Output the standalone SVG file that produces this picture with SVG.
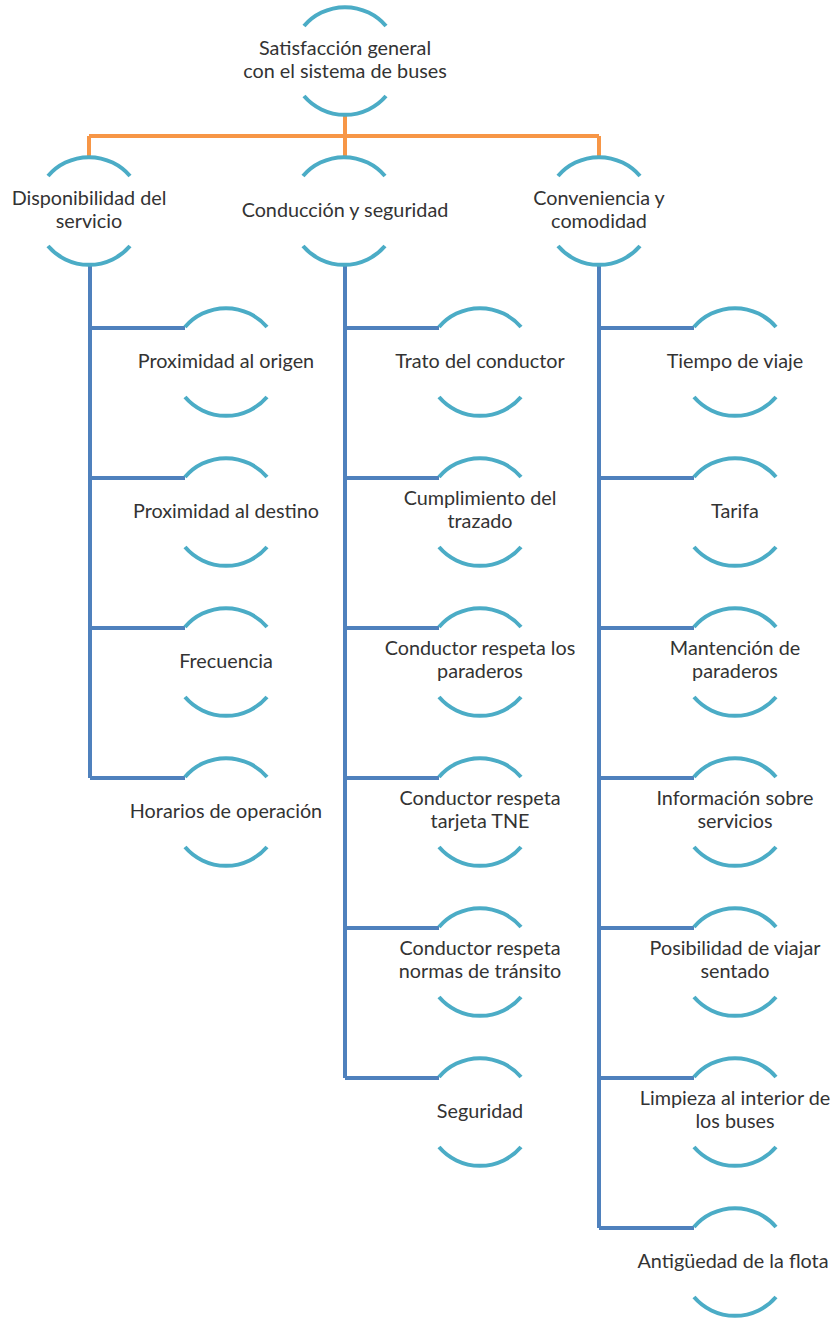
<svg xmlns="http://www.w3.org/2000/svg" xmlns:xlink="http://www.w3.org/1999/xlink" width="835" height="1318" viewBox="0 0 835 1318">
  <style>
    .arc { fill: none; stroke: #4BACC6; stroke-width: 4; }
    .trunk { fill: none; stroke: #F79646; stroke-width: 4; }
    .branch { fill: none; stroke: #4F81BD; stroke-width: 4; }
    text { font-family: Lato, "Open Sans", "Liberation Sans", sans-serif; font-size: 19.8px; fill: #333333; text-anchor: middle; }
  </style>
  <defs>
    <!-- open circle: top and bottom arcs around (0,0) -->
    <g id="ring">
      <path class="arc" d="M -41 -35 A 54 54 0 0 1 41 -35"/>
      <path class="arc" d="M -41 35 A 54 54 0 0 0 41 35"/>
    </g>
  </defs>
  <rect width="835" height="1318" fill="#ffffff"/>

  <g id="connectors">
    <path class="trunk" d="M 345 115 V 136 M 89 136 H 599 M 89 136 V 157 M 345 136 V 157 M 599 136 V 157"/>
    <path class="branch" d="M 90 265 V 778 M 90 328 H 185 M 90 478 H 185 M 90 628 H 185 M 90 778 H 185"/>
    <path class="branch" d="M 345 265 V 1078 M 345 328 H 439 M 345 478 H 439 M 345 628 H 439 M 345 778 H 439 M 345 928 H 439 M 345 1078 H 439"/>
    <path class="branch" d="M 599 265 V 1228 M 599 328 H 694 M 599 478 H 694 M 599 628 H 694 M 599 778 H 694 M 599 928 H 694 M 599 1078 H 694 M 599 1228 H 694"/>
  </g>

  <g id="root">
    <use xlink:href="#ring" x="345" y="61"/>
    <text x="345" y="55">Satisfacción general</text>
    <text x="345" y="78">con el sistema de buses</text>
  </g>

  <g id="disponibilidad">
    <use xlink:href="#ring" x="89" y="211"/>
    <text x="89" y="205">Disponibilidad del</text>
    <text x="89" y="228">servicio</text>
  </g>
  <g id="conduccion">
    <use xlink:href="#ring" x="344" y="211"/>
    <text x="345" y="217">Conducción y seguridad</text>
  </g>
  <g id="conveniencia">
    <use xlink:href="#ring" x="599" y="211"/>
    <text x="599" y="205">Conveniencia y</text>
    <text x="599" y="228">comodidad</text>
  </g>

  <!-- Disponibilidad del servicio -->
  <g id="proximidad-origen">
    <use xlink:href="#ring" x="226" y="362"/>
    <text x="226" y="368">Proximidad al origen</text>
  </g>
  <g id="proximidad-destino">
    <use xlink:href="#ring" x="226" y="512"/>
    <text x="226" y="518">Proximidad al destino</text>
  </g>
  <g id="frecuencia">
    <use xlink:href="#ring" x="226" y="662"/>
    <text x="226" y="668">Frecuencia</text>
  </g>
  <g id="horarios">
    <use xlink:href="#ring" x="226" y="812"/>
    <text x="226" y="818">Horarios de operación</text>
  </g>

  <!-- Conducción y seguridad -->
  <g id="trato">
    <use xlink:href="#ring" x="480" y="362"/>
    <text x="480" y="368">Trato del conductor</text>
  </g>
  <g id="cumplimiento">
    <use xlink:href="#ring" x="480" y="512"/>
    <text x="480" y="505">Cumplimiento del</text>
    <text x="480" y="528">trazado</text>
  </g>
  <g id="respeta-paraderos">
    <use xlink:href="#ring" x="480" y="662"/>
    <text x="480" y="655">Conductor respeta los</text>
    <text x="480" y="678">paraderos</text>
  </g>
  <g id="respeta-tne">
    <use xlink:href="#ring" x="480" y="812"/>
    <text x="480" y="805">Conductor respeta</text>
    <text x="480" y="828">tarjeta TNE</text>
  </g>
  <g id="respeta-normas">
    <use xlink:href="#ring" x="480" y="962"/>
    <text x="480" y="955">Conductor respeta</text>
    <text x="480" y="978">normas de tránsito</text>
  </g>
  <g id="seguridad">
    <use xlink:href="#ring" x="480" y="1112"/>
    <text x="480" y="1118">Seguridad</text>
  </g>

  <!-- Conveniencia y comodidad -->
  <g id="tiempo">
    <use xlink:href="#ring" x="735" y="362"/>
    <text x="735" y="368">Tiempo de viaje</text>
  </g>
  <g id="tarifa">
    <use xlink:href="#ring" x="735" y="512"/>
    <text x="735" y="518">Tarifa</text>
  </g>
  <g id="mantencion">
    <use xlink:href="#ring" x="735" y="662"/>
    <text x="735" y="655">Mantención de</text>
    <text x="735" y="678">paraderos</text>
  </g>
  <g id="informacion">
    <use xlink:href="#ring" x="735" y="812"/>
    <text x="735" y="805">Información sobre</text>
    <text x="735" y="828">servicios</text>
  </g>
  <g id="sentado">
    <use xlink:href="#ring" x="735" y="962"/>
    <text x="735" y="955">Posibilidad de viajar</text>
    <text x="735" y="978">sentado</text>
  </g>
  <g id="limpieza">
    <use xlink:href="#ring" x="735" y="1112"/>
    <text x="735" y="1105">Limpieza al interior de</text>
    <text x="735" y="1128">los buses</text>
  </g>
  <g id="antiguedad">
    <use xlink:href="#ring" x="735" y="1262"/>
    <text x="733" y="1268">Antigüedad de la flota</text>
  </g>
</svg>
